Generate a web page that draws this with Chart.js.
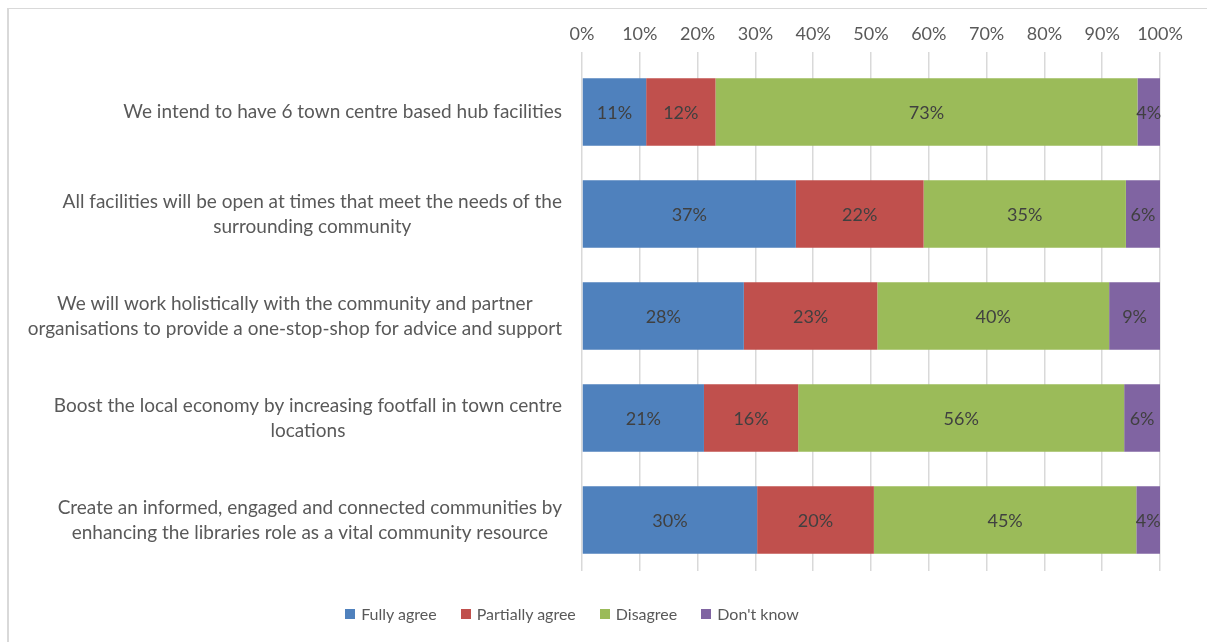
<!DOCTYPE html>
<html>
<head>
<meta charset="utf-8">
<script src="https://cdn.jsdelivr.net/npm/chart.js@4"></script>
<style>
  html, body { margin: 0; padding: 0; background: #fff; }
  #frame {
    position: absolute; left: 7px; top: 8px; width: 1300px; height: 700px;
    border-left: 2px solid #d9d9d9; border-top: 1px solid #d9d9d9;
  }
  #wrap { position: absolute; left: 0; top: 0; width: 1207px; height: 642px; }
  #legend {
    position: absolute; left: 0; top: 604px; width: 1144px;
    display: flex; justify-content: center; align-items: center;
    font-family: Lato, 'Liberation Sans', sans-serif; font-size: 16px; color: #595959;
  }
  .item { display: flex; align-items: center; margin: 0 12px; }
  .box { width: 10px; height: 10px; margin-right: 6px; }
</style>
</head>
<body>
<div id="frame"></div>
<div id="wrap"><canvas id="grafico"></canvas></div>
<div id="legend"></div>
<script>
// Categorías (cada etiqueta partida en líneas como en el original)
const categorias = [
  ['We intend to have 6 town centre based hub facilities'],
  ['All facilities will be open at times that meet the needs of the', 'surrounding community'],
  ['We will work holistically with the community and partner', 'organisations to provide a one-stop-shop for advice and support'],
  ['Boost the local economy by increasing footfall in town centre', 'locations'],
  ['Create an informed, engaged and connected communities by', 'enhancing the libraries role as a vital community resource']
];

// Valores (%)
const totalmente = [11.1, 37.0, 28.0, 21.1, 30.3];
const parcialmente = [12.0, 22.1, 23.1, 16.3, 20.2];
const desacuerdo = [73.0, 35.0, 40.1, 56.4, 45.4];
const noSabe = [3.9, 5.9, 8.8, 6.2, 4.1];

const nombresSeries = ['Fully agree', 'Partially agree', 'Disagree', "Don't know"];
const ticksX = [0, 10, 20, 30, 40, 50, 60, 70, 80, 90, 100];

const colores = {
  azul: '#4F81BD',
  rojo: '#C0504D',
  verde: '#9BBB59',
  morado: '#8064A2',
  texto: '#595959',
  etiqueta: '#404040',
  rejilla: '#d9d9d9'
};

const fuente = "Lato, 'Liberation Sans', sans-serif";

// Etiquetas de categoría: bloque alineado a la derecha, líneas centradas
const etiquetasCategorias = {
  id: 'etiquetasCategorias',
  afterDraw(chart) {
    const ctx = chart.ctx;
    const escalaY = chart.scales.y;
    ctx.save();
    ctx.font = '19px ' + fuente;
    ctx.fillStyle = colores.texto;
    ctx.textAlign = 'center';
    ctx.textBaseline = 'middle';
    categorias.forEach((lineas, i) => {
      const y = escalaY.getPixelForValue(i);
      const ancho = Math.max(...lineas.map(l => ctx.measureText(l).width));
      const cx = chart.chartArea.left - 20 - ancho / 2;
      lineas.forEach((l, j) => {
        ctx.fillText(l, cx, y + (j - (lineas.length - 1) / 2) * 25);
      });
    });
    ctx.restore();
  }
};

// Etiquetas de datos en el centro de cada segmento
const etiquetasDatos = {
  id: 'etiquetasDatos',
  afterDatasetsDraw(chart) {
    const ctx = chart.ctx;
    ctx.save();
    ctx.font = '18px ' + fuente;
    ctx.fillStyle = colores.etiqueta;
    ctx.textAlign = 'center';
    ctx.textBaseline = 'middle';
    chart.data.datasets.forEach((ds, di) => {
      const meta = chart.getDatasetMeta(di);
      meta.data.forEach((barra, i) => {
        const p = barra.getProps(['x', 'y', 'base'], true);
        ctx.fillText(Math.round(ds.data[i]) + '%', (p.x + p.base) / 2, p.y + 1);
      });
    });
    ctx.restore();
  }
};

document.addEventListener('DOMContentLoaded', function() {
  const series = [totalmente, parcialmente, desacuerdo, noSabe];
  const coloresSeries = [colores.azul, colores.rojo, colores.verde, colores.morado];

  const ctx = document.getElementById('grafico').getContext('2d');
  const chart = new Chart(ctx, {
    type: 'bar',
    data: {
      labels: categorias,
      datasets: series.map((datos, i) => ({
        label: nombresSeries[i],
        data: datos,
        backgroundColor: coloresSeries[i],
        borderWidth: 0,
        barPercentage: 0.66,
        categoryPercentage: 1
      }))
    },
    options: {
      indexAxis: 'y',
      responsive: true,
      maintainAspectRatio: false,
      animation: false,
      layout: { padding: { left: 0, top: 0, right: 47, bottom: 71 } },
      plugins: {
        legend: { display: false },
        tooltip: { enabled: false }
      },
      scales: {
        x: {
          position: 'top',
          stacked: true,
          min: 0,
          max: 100,
          afterBuildTicks: function(scale) {
            scale.ticks = ticksX.map(v => ({ value: v }));
          },
          afterFit: function(scale) { scale.height = 61; },
          grid: {
            color: colores.rejilla,
            lineWidth: 1.5,
            tickLength: 9,
            tickColor: colores.rejilla
          },
          border: { display: false },
          ticks: {
            padding: 7,
            color: colores.texto,
            font: { family: fuente, size: 18 },
            callback: function(value) { return value + '%'; }
          }
        },
        y: {
          stacked: true,
          afterFit: function(scale) { scale.width = 582; },
          grid: { display: false },
          border: { display: false },
          ticks: { display: false }
        }
      }
    },
    plugins: [etiquetasCategorias, etiquetasDatos]
  });

  // Leyenda en HTML a partir de los datasets
  const leyenda = document.getElementById('legend');
  chart.data.datasets.forEach(ds => {
    const item = document.createElement('div');
    item.className = 'item';
    const caja = document.createElement('span');
    caja.className = 'box';
    caja.style.background = ds.backgroundColor;
    const texto = document.createElement('span');
    texto.textContent = ds.label;
    item.appendChild(caja);
    item.appendChild(texto);
    leyenda.appendChild(item);
  });
});
</script>
</body>
</html>
